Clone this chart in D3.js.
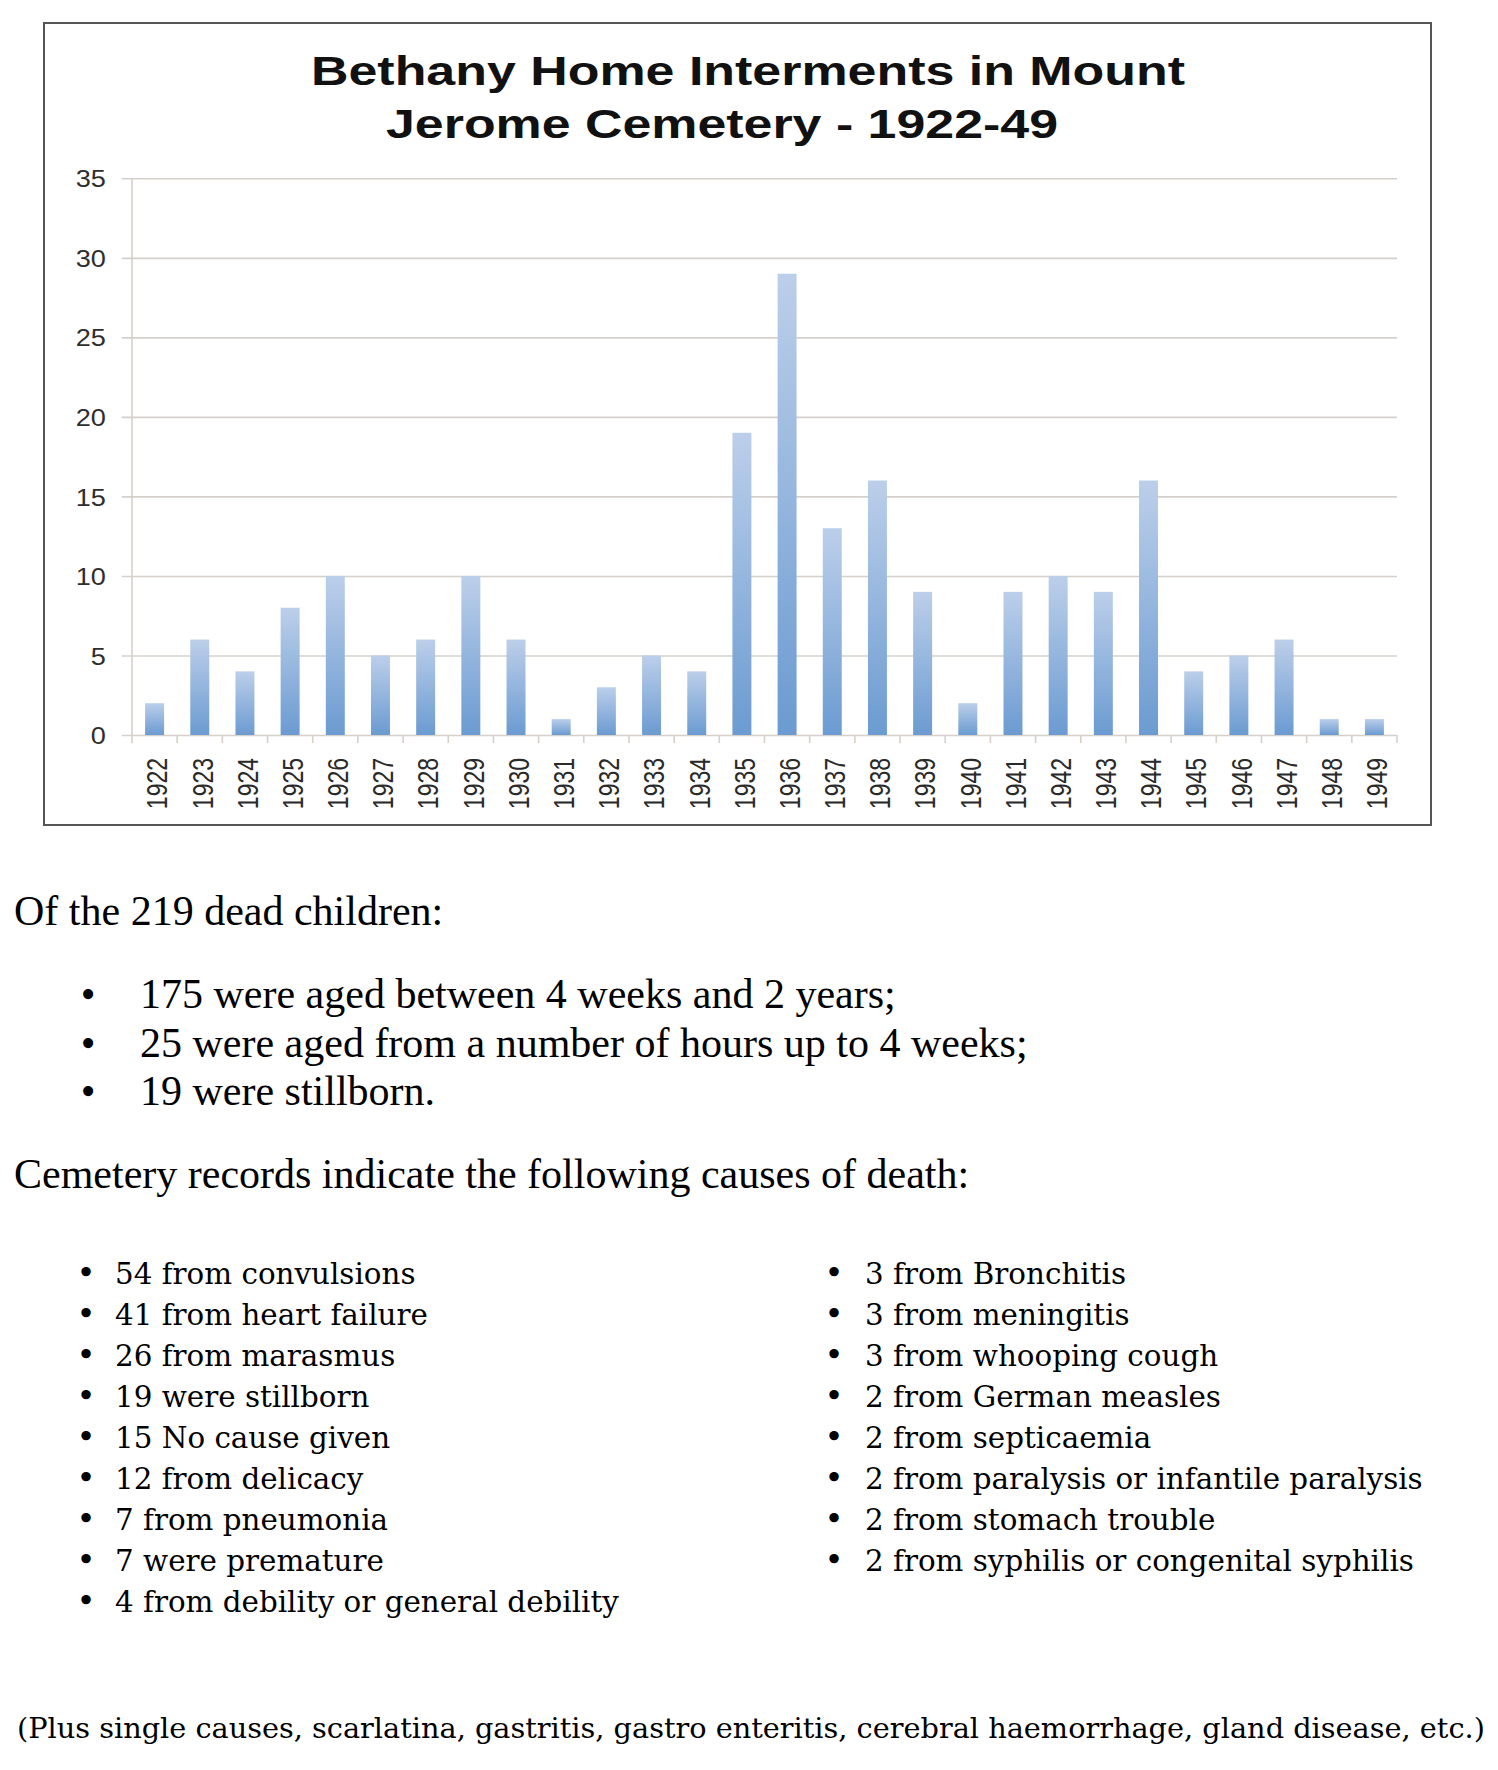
<!DOCTYPE html>
<html>
<head>
<meta charset="utf-8">
<script src="https://cdn.jsdelivr.net/npm/d3@7"></script>
<style>
  html, body { margin: 0; padding: 0; background: #ffffff; }
  svg { display: block; }
</style>
</head>
<body>
<svg id="page" width="1498" height="1770"></svg>
<script>
// ---------------- data ----------------
const years = ["1922","1923","1924","1925","1926","1927","1928","1929","1930","1931",
               "1932","1933","1934","1935","1936","1937","1938","1939","1940","1941",
               "1942","1943","1944","1945","1946","1947","1948","1949"];
const interments = [2,6,4,8,10,5,6,10,6,1,3,5,4,19,29,13,16,9,2,9,10,9,16,4,5,6,1,1];
const yTickValues = [0,5,10,15,20,25,30,35];
const titleLines = ["Bethany Home Interments in Mount", "Jerome Cemetery - 1922-49"];

const introText = "Of the 219 dead children:";
const ageGroups = [
  "175 were aged between 4 weeks and 2 years;",
  "25 were aged from a number of hours up to 4 weeks;",
  "19 were stillborn."
];
const causesHeading = "Cemetery records indicate the following causes of death:";
const causesLeft = [
  "54 from convulsions",
  "41 from heart failure",
  "26 from marasmus",
  "19 were stillborn",
  "15 No cause given",
  "12 from delicacy",
  "7 from pneumonia",
  "7 were premature",
  "4 from debility or general debility"
];
const causesRight = [
  "3 from Bronchitis",
  "3 from meningitis",
  "3 from whooping cough",
  "2 from German measles",
  "2 from septicaemia",
  "2 from paralysis or infantile paralysis",
  "2 from stomach trouble",
  "2 from syphilis or congenital syphilis"
];
const footnote = "(Plus single causes, scarlatina, gastritis, gastro enteritis, cerebral haemorrhage, gland disease, etc.)";

// ---------------- layout ----------------
const svg = d3.select("#page");
const sans = "'Liberation Sans', Arial, sans-serif";
const serif = "'Liberation Serif', 'Times New Roman', serif";
const serif2 = "'DejaVu Serif', serif";

const defs = svg.append("defs");
const grad = defs.append("linearGradient")
  .attr("id", "barGrad").attr("x1", 0).attr("y1", 0).attr("x2", 0).attr("y2", 1);
grad.append("stop").attr("offset", "0%").attr("stop-color", "#bccfea");
grad.append("stop").attr("offset", "100%").attr("stop-color", "#6b9bd1");

// chart frame
svg.append("rect")
  .attr("x", 44).attr("y", 23).attr("width", 1387).attr("height", 802)
  .attr("fill", "#ffffff").attr("stroke", "#555555").attr("stroke-width", 2);

// title
const titlePos = [{x: 311, y: 85, w: 874}, {x: 386, y: 138, w: 672}];
svg.append("g").selectAll("text").data(titleLines).join("text")
  .attr("x", (d, i) => titlePos[i].x)
  .attr("y", (d, i) => titlePos[i].y)
  .attr("textLength", (d, i) => titlePos[i].w)
  .attr("lengthAdjust", "spacingAndGlyphs")
  .attr("font-family", sans).attr("font-weight", "bold").attr("font-size", 40)
  .attr("fill", "#111111")
  .text(d => d);

// scales
const x = d3.scaleBand().domain(years).range([132, 1397]).paddingInner(0.58).paddingOuter(0.29);
const y = d3.scaleLinear().domain([0, 35]).range([735, 178.3]);

// y gridlines + labels
const gridLeft = 121.7, gridRight = 1397;
const yAxis = svg.append("g")
  .attr("transform", `translate(${gridLeft},0)`)
  .call(d3.axisLeft(y).tickValues(yTickValues).tickSize(-(gridRight - gridLeft)).tickPadding(14).tickFormat(d3.format("d")));
yAxis.select(".domain").remove();
yAxis.selectAll(".tick line").attr("stroke", "#d6d0cb").attr("stroke-width", 1.6);
yAxis.selectAll(".tick text")
  .attr("font-family", sans).attr("font-size", 24).attr("fill", "#2e2e2e")
  .attr("dy", "0.36em")
  .attr("transform", "scale(1.13,1)");

// vertical axis line
svg.append("line")
  .attr("x1", 132).attr("x2", 132).attr("y1", y(35)).attr("y2", y(0))
  .attr("stroke", "#d6d0cb").attr("stroke-width", 1.6);

// x tick marks at band boundaries
const boundaries = d3.range(years.length + 1).map(i => x.range()[0] + i * x.step());
svg.append("g").selectAll("line").data(boundaries).join("line")
  .attr("x1", d => d).attr("x2", d => d).attr("y1", y(0)).attr("y2", y(0) + 8)
  .attr("stroke", "#d6d0cb").attr("stroke-width", 1.6);

// bars
svg.append("g").selectAll("rect").data(interments).join("rect")
  .attr("x", (d, i) => x(years[i]))
  .attr("y", d => y(d))
  .attr("width", x.bandwidth())
  .attr("height", d => y(0) - y(d))
  .attr("fill", "url(#barGrad)");

// year labels
svg.append("g").selectAll("text").data(years).join("text")
  .attr("transform", d => `translate(${x(d) + x.bandwidth() / 2 + 2},${y(0) + 23}) scale(1.3,1) rotate(-90)`)
  .attr("text-anchor", "end").attr("dy", "0.36em")
  .attr("font-family", sans).attr("font-size", 23).attr("fill", "#2a2a2a")
  .text(d => d);

// ---------------- body text ----------------
svg.append("text")
  .attr("x", 14).attr("y", 925)
  .attr("font-family", serif).attr("font-size", 42).attr("fill", "#000")
  .text(introText);

const ageG = svg.append("g").selectAll("g").data(ageGroups).join("g")
  .attr("transform", (d, i) => `translate(0,${1008 + i * 48.5})`);
ageG.append("text").attr("x", 88).attr("text-anchor", "middle")
  .attr("font-family", serif).attr("font-size", 42).text("•");
ageG.append("text").attr("x", 140)
  .attr("font-family", serif).attr("font-size", 42).text(d => d);

svg.append("text")
  .attr("x", 14).attr("y", 1188)
  .attr("font-family", serif).attr("font-size", 42).attr("fill", "#000")
  .text(causesHeading);

// footnote — fit to measured width, then reuse font size for the cause lists
const foot = svg.append("text")
  .attr("x", 17).attr("y", 1738)
  .attr("font-family", serif2).attr("font-size", 28).attr("fill", "#000")
  .text(footnote);
const natural = foot.node().getComputedTextLength();
const fs2 = 28 * 1469 / natural;
foot.attr("font-size", fs2);
const fsList = fs2 * 1.02;

function drawList(items, bx, tx) {
  const g = svg.append("g").selectAll("g").data(items).join("g")
    .attr("transform", (d, i) => `translate(0,${1284 + i * 41})`);
  g.append("text").attr("x", bx).attr("text-anchor", "middle")
    .attr("font-family", serif2).attr("font-size", fsList * 1.1).text("•");
  g.append("text").attr("x", tx)
    .attr("font-family", serif2).attr("font-size", fsList).text(d => d);
}
drawList(causesLeft, 86, 115);
drawList(causesRight, 834, 865);
</script>
</body>
</html>
